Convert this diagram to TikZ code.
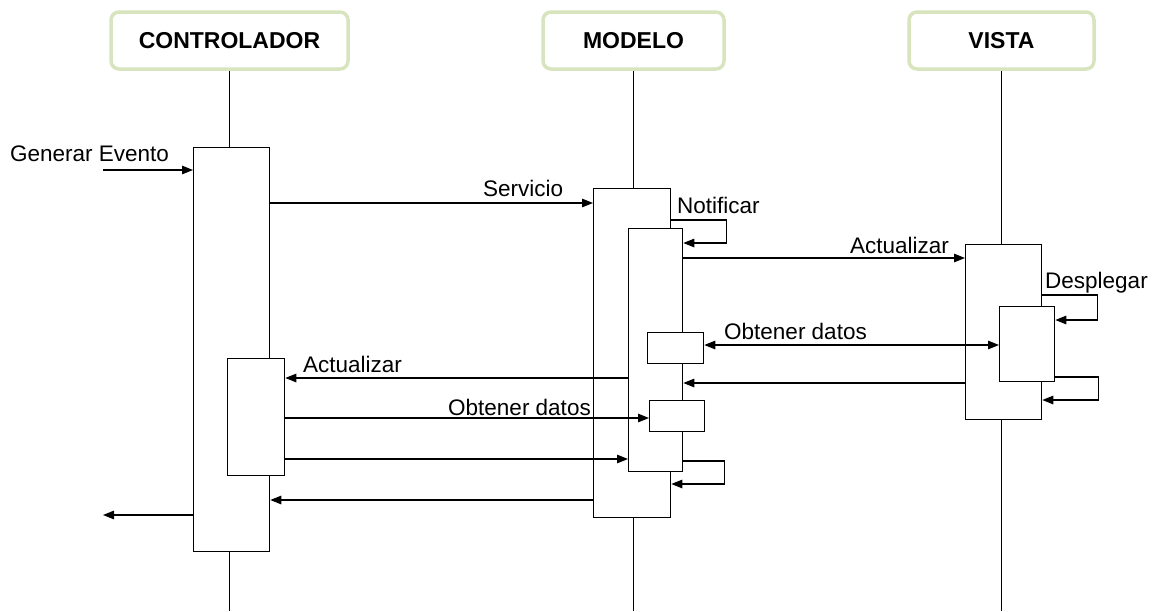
\documentclass[tikz,border=0pt]{standalone}
\usepackage{fontspec}
\setmainfont{Liberation Sans}
\usetikzlibrary{arrows.meta}
\definecolor{headgreen}{HTML}{D7E4BD}
\tikzset{x=1pt, y=-1pt,
 head/.style={draw=headgreen, line width=3.5pt, rounded corners=8pt, fill=white,
   font=\bfseries\fontsize{23}{26}\selectfont, inner sep=0pt, minimum height=57pt,
   text depth=0pt},
 act/.style={draw, fill=white, line width=1.3pt, inner sep=0pt, anchor=north west},
 life/.style={line width=1.3pt},
 msg/.style={line width=1.3pt, -{Triangle[length=11pt,width=8.5pt]}},
 msgboth/.style={line width=1.3pt, {Triangle[length=11pt,width=8.5pt]}-{Triangle[length=11pt,width=8.5pt]}},
 lbl/.style={font=\fontsize{22.5}{25}\selectfont, anchor=base west, inner sep=0pt},
 }

\begin{document}
\begin{tikzpicture}
    \useasboundingbox (0,0) rectangle (1162,611);
    % cabeceras
    \node[head, minimum width=237pt] (ctrlhead) at (229.5,40.5) {CONTROLADOR};
    \node[head, minimum width=181pt] (modhead) at (633.5,40.5) {MODELO};
    \node[head, minimum width=185pt] (vistahead) at (1001.5,40.5) {VISTA};
    \foreach \h in {ctrlhead, modhead, vistahead} {
        \draw[life] (\h.south) -- (\h.south |- 0,611);
    }
    % activaciones
    \foreach \n/\x/\y/\w/\hh in {ctrlA/193/147/76/404, ctrlB/227/358/57/117,
        modA/593/188/77/329, modB/628/228/54/243, modC/647/332/56/31, modD/649/400/55/31,
        vistaA/965/244/76/175, vistaB/999/306/55/75} {
        \node[act, minimum width=\w pt, minimum height=\hh pt] (\n) at (\x,\y) {};
    }
    \coordinate (evin) at (103,170);
    \coordinate (evout) at (103,515);
    % mensajes
    \draw[msg] (evin) -- (ctrlA.west |- 0,170);
    \draw[msg] (ctrlA.east |- 0,203) -- (modA.west |- 0,203);
    \draw[msg] (modA.east |- 0,220) -- ++(55,0) |- (modB.east |- 0,243);
    \draw[msg] (modB.east |- 0,258) -- (vistaA.west |- 0,258);
    \draw[msg] (vistaA.east |- 0,295) -- ++(55,0) |- (vistaB.east |- 0,320);
    \draw[msgboth] (modC.east |- 0,345) -- (vistaB.west |- 0,345);
    \draw[msg] (vistaB.east |- 0,377) -- ++(43,0) |- (vistaA.east |- 0,400);
    \draw[msg] (vistaA.west |- 0,383) -- (modB.east |- 0,383);
    \draw[msg] (modB.west |- 0,378) -- (ctrlB.east |- 0,378);
    \draw[msg] (ctrlB.east |- 0,418) -- (modD.west |- 0,418);
    \draw[msg] (ctrlB.east |- 0,459) -- (modB.west |- 0,459);
    \draw[msg] (modB.east |- 0,461) -- ++(41,0) |- (modA.east |- 0,484);
    \draw[msg] (modA.west |- 0,500) -- (ctrlA.east |- 0,500);
    \draw[msg] (ctrlA.west |- 0,515) -- (evout);
    % etiquetas
    \node[lbl] (lgen) at (10,161) {Generar Evento};
    \node[lbl] (lserv) at (483,196) {Servicio};
    \node[lbl] (lnot) at (677,213) {Notificar};
    \node[lbl] (lact1) at (850,253) {Actualizar};
    \node[lbl] (ldesp) at (1045,288) {Desplegar};
    \node[lbl] (lobt1) at (724,339) {Obtener datos};
    \node[lbl] (lact2) at (303,372) {Actualizar};
    \node[lbl] (lobt2) at (448,415) {Obtener datos};
\end{tikzpicture}
\end{document}
